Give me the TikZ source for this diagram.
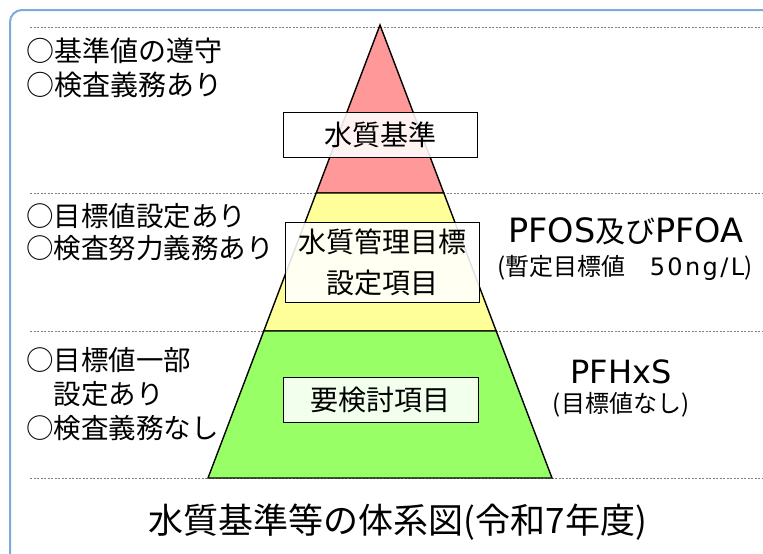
\documentclass[tikz,border=0pt]{standalone}
\usepackage{fontspec}
\setmainfont{Noto Sans CJK JP}
\newfontfamily\lat{DejaVu Sans}
\newfontfamily\latw[LetterSpace=10]{DejaVu Sans}
\definecolor{bandred}{RGB}{255,153,153}
\definecolor{bandyellow}{RGB}{255,255,153}
\definecolor{bandgreen}{RGB}{153,255,102}
\definecolor{frameblue}{RGB}{125,170,220}
\tikzset{
  lvlbox/.style={draw=black, line width=1pt, fill=white, fill opacity=0.88, text opacity=1, inner sep=0pt, align=center},
  band/.style={draw=black, line width=1.4pt},
  sepline/.style={gray, line width=0.7pt, dash pattern=on 2pt off 1.5pt},
  note/.style={anchor=west, align=left, inner sep=0pt},
}
\newcommand{\fs}[2]{\fontsize{#1}{#2}\selectfont}

\begin{document}
\begin{tikzpicture}[x=1pt,y=-1pt]
\useasboundingbox (0,0) rectangle (763,554);
\draw[frameblue, line width=2pt, rounded corners=12pt] (10,10) rectangle (790,575);
% separators
\foreach \y in {27,193,331,478} \draw[sepline] (30,\y) -- (763,\y);
% pyramid
\filldraw[band, fill=bandred] (380,25) -- (443.8,193) -- (316.2,193) -- cycle;
\filldraw[band, fill=bandyellow] (316.2,193) -- (443.8,193) -- (496.2,331) -- (263.8,331) -- cycle;
\filldraw[band, fill=bandgreen] (263.8,331) -- (496.2,331) -- (552,478) -- (208,478) -- cycle;
% level names
\node[lvlbox, minimum width=194pt, minimum height=45pt, font=\fs{28}{28}] (kijun) at (380.5,134.5) {水質基準};
\node[lvlbox, minimum width=194pt, minimum height=80pt, font=\fs{28}{41}] (kanri) at (382,262) {水質管理目標\\設定項目};
\node[lvlbox, minimum width=195pt, minimum height=45pt, font=\fs{28}{28}] (youken) at (380.5,399.5) {要検討項目};
% left notes
\node[note, font=\fs{28}{34}] (note1) at (26,68) {○基準値の遵守\\○検査義務あり};
\node[note, font=\fs{27.5}{32}] (note2) at (26,232) {○目標値設定あり\\○検査努力義務あり};
\node[note, font=\fs{27.5}{34}] (note3) at (26,394) {○目標値一部\\　設定あり\\○検査義務なし};
% right notes
\node[inner sep=0pt] (pfos) at (626,231) {{\lat\fs{33.5}{33.5}PFOS}{\fs{30}{30}及び}{\lat\fs{33.5}{33.5}PFOA}};
\node[inner sep=0pt, font=\fs{24}{24}] (pfosval) at (625,268) {(暫定目標値　{\latw 50ng/L})};
\node[inner sep=0pt, font=\lat\fs{32}{32}] (pfhxs) at (621,372) {PFHxS};
\node[inner sep=0pt, font=\fs{24}{24}] (pfhxsval) at (621,405) {(目標値なし)};
% title
\node[inner sep=0pt, font=\fs{35}{35}] (title) at (398,522) {水質基準等の体系図(令和7年度)};
\end{tikzpicture}
\end{document}
